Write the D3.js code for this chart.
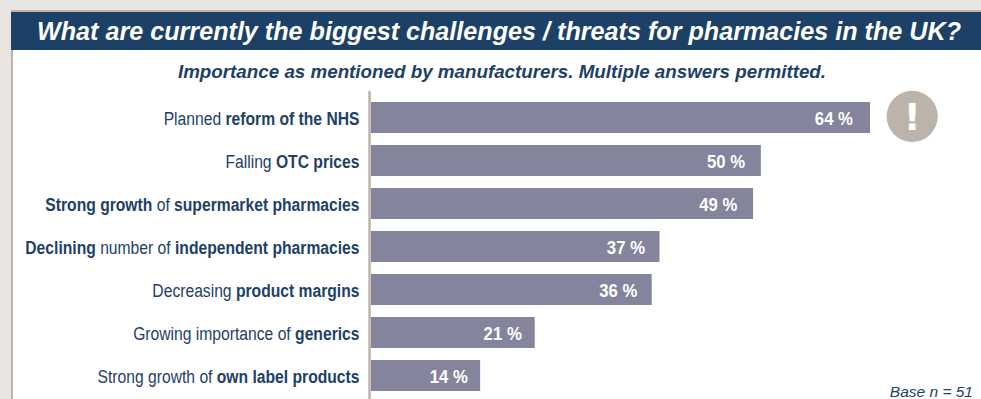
<!DOCTYPE html>
<html>
<head>
<meta charset="utf-8">
<script src="https://cdn.jsdelivr.net/npm/d3@7"></script>
<style>
html,body{margin:0;padding:0;background:#e9e6e2;overflow:hidden}
svg{display:block}
text{font-family:"Liberation Sans",Arial,sans-serif}
.cat{font-size:17.6px;fill:#1d4166}
</style>
</head>
<body>
<svg id="chart" width="981" height="399"></svg>
<script>
// Survey answers: each label is a list of [text, isBold] runs
const labels = [
  [["Planned ",0],["reform of the NHS",1]],
  [["Falling ",0],["OTC prices",1]],
  [["Strong growth",1],[" of ",0],["supermarket pharmacies",1]],
  [["Declining",1],[" number of ",0],["independent pharmacies",1]],
  [["Decreasing ",0],["product margins",1]],
  [["Growing importance of ",0],["generics",1]],
  [["Strong growth of ",0],["own label products",1]]
];
const values = [64, 50, 49, 37, 36, 21, 14];
const titleText = "What are currently the biggest challenges / threats for pharmacies in the UK?";
const subtitleText = "Importance as mentioned by manufacturers. Multiple answers permitted.";
const baseText = "Base n = 51";

const navy = "#1d4166", tan = "#bcb3aa", barFill = "#84849d";
const narrow = 0.89;      // horizontal squeeze that gives the labels their condensed look
const narrowValue = 0.93; // the same for the percentages inside the bars
const svg = d3.select("#chart");

// Panel, frame and heading band
svg.append("rect").attr("x",11).attr("y",10).attr("width",970).attr("height",389).attr("fill",tan);
svg.append("rect").attr("x",13).attr("y",12).attr("width",968).attr("height",387).attr("fill","#fff");
svg.append("rect").attr("x",11).attr("y",12).attr("width",970).attr("height",38).attr("fill",navy);

svg.append("text").attr("x",499).attr("y",40).attr("text-anchor","middle")
  .attr("font-size",25.16).attr("font-style","italic").attr("font-weight",700).attr("fill","#fff").text(titleText);
svg.append("text").attr("x",502).attr("y",77.5).attr("text-anchor","middle")
  .attr("font-size",18.8).attr("font-style","italic").attr("font-weight",700).attr("fill",navy).text(subtitleText);

// Scales
const x = d3.scaleLinear().domain([0,64]).range([371,870]);
const labelX = d3.scaleLinear().domain([0,64]).range([360,853]);
const y = d3.scaleBand().domain(d3.range(values.length)).range([102,391]).paddingInner(12/43).paddingOuter(0);

// Bars and their value labels
svg.selectAll("rect.bar").data(values).join("rect").attr("class","bar")
  .attr("x",x(0)).attr("y",(d,i)=>y(i)).attr("width",d=>x(d)-x(0)).attr("height",y.bandwidth()).attr("fill",barFill);

svg.selectAll("text.val").data(values).join("text").attr("class","val")
  .attr("transform",(d,i)=>`translate(${labelX(d)},${y(i)+y.bandwidth()/2+7}) scale(${narrowValue},1)`)
  .attr("text-anchor","end").attr("font-size",18).attr("font-weight",700).attr("fill","#fff")
  .text(d=>d+" %");

// Category labels with mixed weights
const cat = svg.selectAll("text.cat").data(labels).join("text").attr("class","cat")
  .attr("transform",(d,i)=>`translate(359.5,${y(i)+y.bandwidth()/2+7}) scale(${narrow},1)`)
  .attr("text-anchor","end");
cat.selectAll("tspan").data(d=>d).join("tspan")
  .attr("font-weight",d=>d[1]?700:400).style("white-space","pre").text(d=>d[0]);

// Vertical baseline
svg.append("rect").attr("x",368.3).attr("y",91).attr("width",2.5).attr("height",308).attr("fill",tan);

// Exclamation badge beside the leading bar
const bx = 912.2, by = 116.3;
svg.append("circle").attr("cx",bx).attr("cy",by).attr("r",25.6).attr("fill",tan);
svg.append("text").attr("x",bx).attr("y",by+13.7).attr("text-anchor","middle")
  .style("font-family",'"DejaVu Sans",sans-serif').attr("font-size",37).attr("font-weight",700).attr("fill","#fff").text("!");

svg.append("text").attr("x",973).attr("y",396.7).attr("text-anchor","end")
  .attr("font-size",15.5).attr("font-style","italic").attr("fill",navy).text(baseText);
</script>
</body>
</html>
